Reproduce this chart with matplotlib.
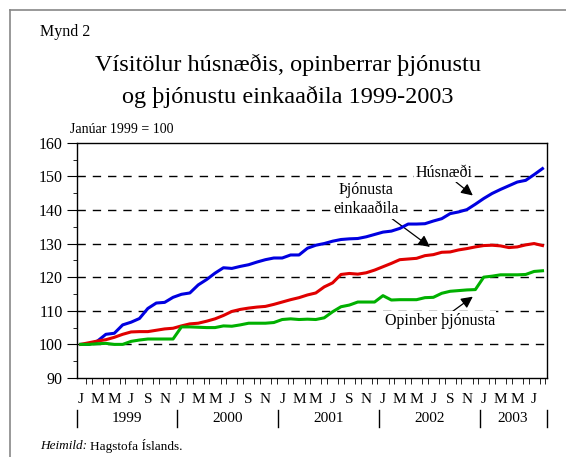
import numpy as np
import matplotlib
matplotlib.use("Agg")
import matplotlib.pyplot as plt
import matplotlib.transforms as mtrans
from matplotlib.lines import Line2D

plt.rcParams['font.family'] = ['Liberation Serif', 'DejaVu Serif']

# Monthly index values, Jan 1999 - Aug 2003 (Jan 1999 = 100)
husnaedi = [100.0, 100.0, 101.0, 103.0, 103.3, 105.8, 106.6, 107.7, 110.7, 112.3,
            112.5, 114.0, 114.9, 115.3, 117.7, 119.3, 121.2, 122.8, 122.6, 123.2,
            123.7, 124.5, 125.2, 125.7, 125.7, 126.6, 126.6, 128.6, 129.5, 130.0,
            130.7, 131.2, 131.4, 131.5, 132.0, 132.7, 133.4, 133.7, 134.5, 135.8,
            135.8, 135.9, 136.7, 137.4, 138.9, 139.4, 140.1, 141.7, 143.4, 144.9,
            146.1, 147.2, 148.3, 148.8, 150.5, 152.3]
einkaadila = [100.0, 100.5, 101.0, 101.4, 102.1, 103.0, 103.7, 103.8, 103.8, 104.2,
              104.6, 104.8, 105.5, 106.1, 106.3, 106.9, 107.6, 108.6, 109.8, 110.4,
              110.8, 111.1, 111.3, 111.9, 112.6, 113.3, 113.9, 114.7, 115.3, 117.1,
              118.3, 120.8, 121.1, 120.9, 121.3, 122.1, 123.1, 124.1, 125.2, 125.4,
              125.6, 126.4, 126.7, 127.4, 127.5, 128.1, 128.5, 129.0, 129.4, 129.5,
              129.3, 128.8, 129.0, 129.6, 130.0, 129.4]
opinber = [100.0, 100.0, 100.2, 100.3, 100.0, 100.0, 100.9, 101.3, 101.6, 101.6,
           101.6, 101.6, 105.2, 105.2, 105.1, 105.0, 105.0, 105.5, 105.4, 105.8,
           106.3, 106.3, 106.3, 106.5, 107.4, 107.6, 107.4, 107.5, 107.4, 107.9,
           109.7, 111.2, 111.7, 112.6, 112.6, 112.6, 114.5, 113.2, 113.3, 113.3,
           113.3, 113.9, 114.0, 115.2, 115.8, 116.0, 116.2, 116.3, 120.0, 120.3,
           120.7, 120.7, 120.7, 120.8, 121.7, 121.9]

month_letters = ['J', 'M', 'M', 'J', 'S', 'N']
years = ['1999', '2000', '2001', '2002', '2003']

W, H = 566, 457
fig = plt.figure(figsize=(W / 100, H / 100), dpi=100)

# thin grey frame (only left and top edges are visible in the original)
fig.add_artist(Line2D([10 / W, 10 / W], [0, 1 - 10 / H], color='#888888', lw=1.2))
fig.add_artist(Line2D([10 / W, 1], [1 - 10 / H, 1 - 10 / H], color='#888888', lw=1.2))

ax = fig.add_axes([76.5 / W, 1 - 378 / H, (546.7 - 76.5) / W, (378 - 142.7) / H])

x = np.arange(len(husnaedi))
ax.plot(x, husnaedi, color='#0000e0', lw=2.2, zorder=3)
ax.plot(x, einkaadila, color='#e00000', lw=2.2, zorder=3)
ax.plot(x, opinber, color='#00b000', lw=2.2, zorder=3)

ax.set_xlim(-0.5, 55.5)
ax.set_ylim(90, 160)

# dashed grid lines
for yv in range(100, 160, 10):
    ax.axhline(yv, color='black', lw=1.0, dashes=(6, 5), zorder=1)

ax.set_yticks(range(90, 161, 10))
ax.set_yticks(range(95, 160, 10), minor=True)
ax.tick_params(axis='y', which='major', length=7, direction='out', labelsize=11.5, pad=3)
ax.tick_params(axis='y', which='minor', length=3, direction='out')

# month letters every second month, small ticks below the axis
n_months = 56
major = list(range(0, n_months, 2))
ax.set_xticks(major)
ax.set_xticklabels([month_letters[(m % 12) // 2] for m in major])
ax.set_xticks(np.arange(0, 55.6, 2 / 3), minor=True)
ax.tick_params(axis='x', which='major', length=0, labelsize=11, pad=11)
ax.tick_params(axis='x', which='minor', length=4, direction='out')

# year separators and year labels
trans = mtrans.blended_transform_factory(ax.transData, ax.transAxes)
bounds = [-0.5, 11.5, 23.5, 35.5, 47.5, 55.5]
for b in bounds:
    ax.plot([b, b], [-0.136, -0.208], color='black', lw=1.0, transform=trans, clip_on=False)
for i, yr in enumerate(years):
    ax.text((bounds[i] + bounds[i + 1]) / 2, -0.170, yr, transform=trans,
            ha='center', va='center', fontsize=11)

for s in ax.spines.values():
    s.set_linewidth(1.0)

# labels with arrows (white boxes cut the grid lines, not the data lines)
box = dict(facecolor='white', edgecolor='none', pad=1)
arrow = dict(arrowstyle='-|>,head_length=0.6,head_width=0.3', color='black', lw=0.9,
             shrinkA=0, shrinkB=0)
ax.annotate('Húsnæði', xy=(46.7, 144.3), xytext=(43.3, 151.1), fontsize=11.5,
            ha='center', va='center', bbox=box, arrowprops=arrow, zorder=2)
ax.annotate('Þjónusta\neinkaaðila', xy=(41.6, 129.0), xytext=(34.0, 143.1), fontsize=11.5,
            ha='center', va='center', bbox=box, arrowprops=arrow, zorder=2,
            linespacing=1.3)
ax.annotate('Opinber þjónusta', xy=(46.7, 114.2), xytext=(42.75, 107.0), fontsize=11.5,
            ha='center', va='center', bbox=box, arrowprops=arrow, zorder=2)

# titles and notes
fig.text(40 / W, 1 - 32 / H, 'Mynd 2', fontsize=11.5, ha='left', va='center')
fig.text(288 / W, 1 - 65 / H, 'Vísitölur húsnæðis, opinberrar þjónustu',
         fontsize=17.5, ha='center', va='center')
fig.text(288 / W, 1 - 97 / H, 'og þjónustu einkaaðila 1999-2003',
         fontsize=17.5, ha='center', va='center')
fig.text(70 / W, 1 - 130 / H, 'Janúar 1999 = 100', fontsize=10, ha='left', va='center')
src = fig.text(40 / W, 1 - 446 / H, 'Heimild:', fontsize=9.5, style='italic',
               ha='left', va='center')
ax.annotate('Hagstofa Íslands.', xy=(1, 0.5), xycoords=src, xytext=(2.5, 0),
            textcoords='offset points', fontsize=9.5, ha='left', va='center',
            annotation_clip=False)

fig.savefig('out.png', dpi=100)
